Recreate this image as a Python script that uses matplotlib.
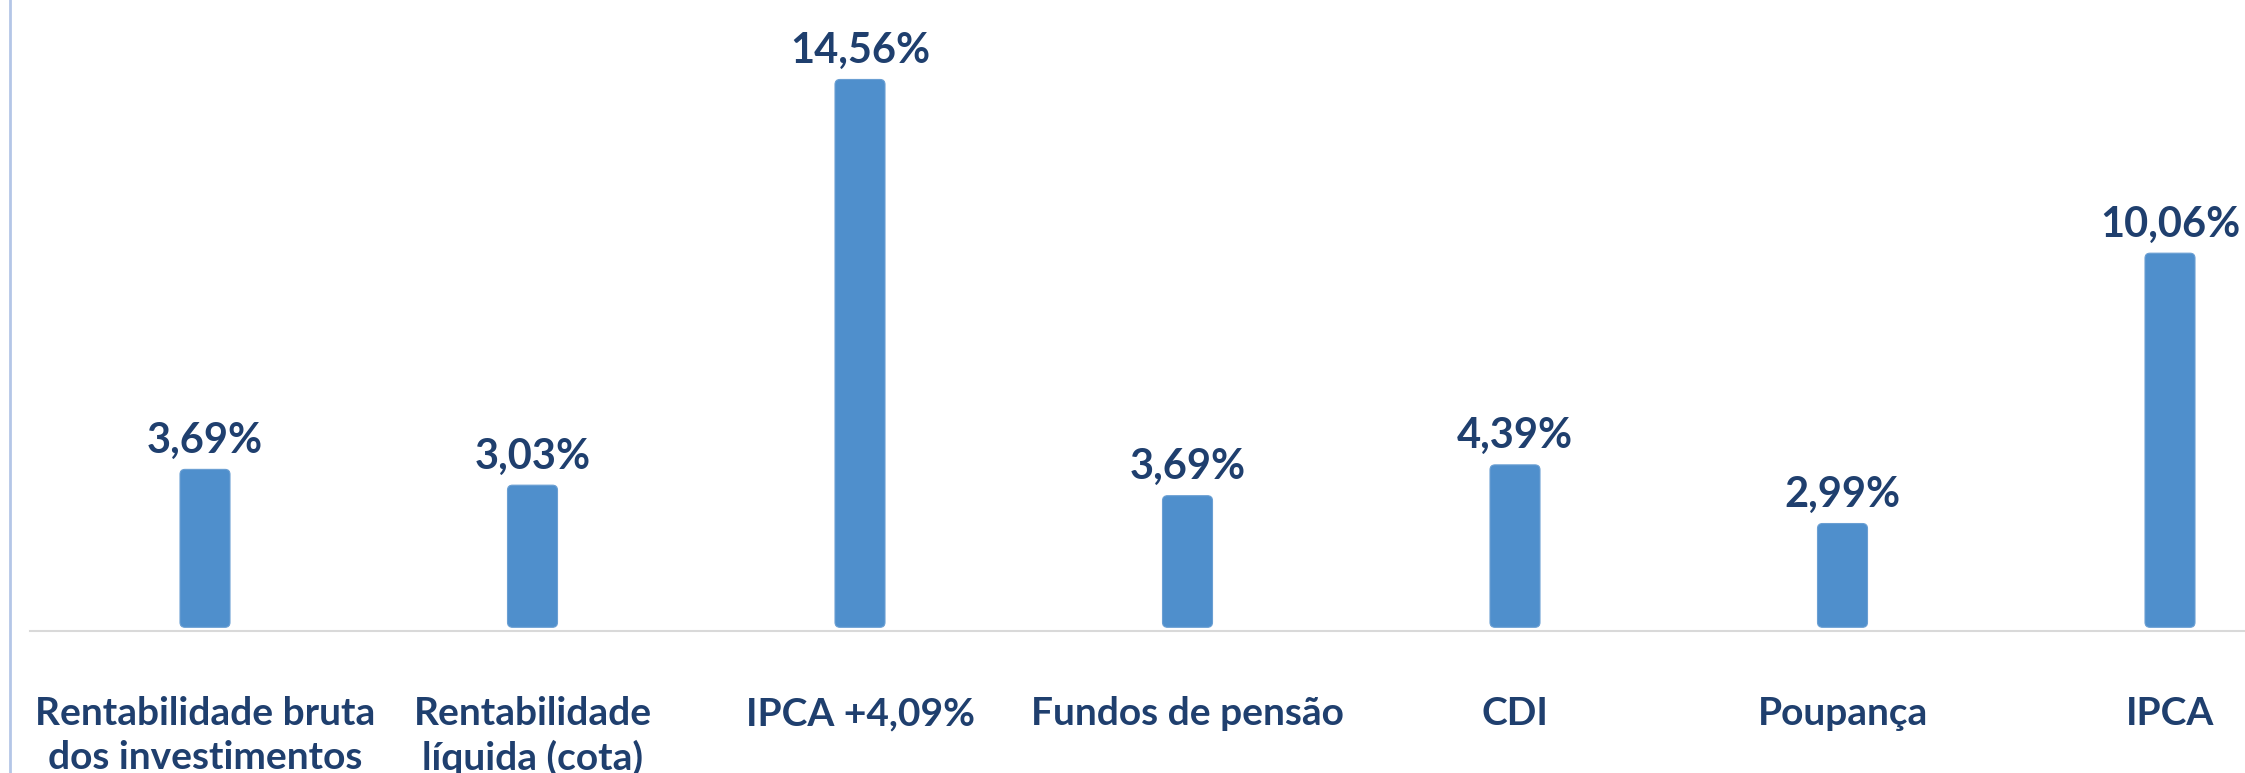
import matplotlib
matplotlib.use("Agg")
import matplotlib.pyplot as plt
from matplotlib.patches import FancyBboxPatch

# Data
categories = ["Rentabilidade bruta\ndos investimentos", "Rentabilidade\nlíquida (cota)",
              "IPCA +4,09%", "Fundos de pensão", "CDI", "Poupança", "IPCA"]
value_labels = ["3,69%", "3,03%", "14,56%", "3,69%", "4,39%", "2,99%", "10,06%"]
# bar heights as drawn in the picture (% units)
bar_heights = [4.20, 3.78, 14.57, 3.50, 4.32, 2.76, 9.95]

bar_color = "#4F8FCC"
text_color = "#1F3F6E"

W, H = 2245, 773
fig = plt.figure(figsize=(W / 100, H / 100), dpi=100)
ax = fig.add_axes([0, 0, 1, 1])

# pixel layout of the reference
x0_px, dx_px = 205, 327.5      # first bar centre, spacing
base_px, ppu = 627.3, 37.6     # bar bottom (from top), pixels per % unit

ax.set_xlim(-x0_px / dx_px, (W - x0_px) / dx_px)
ax.set_ylim(-(H - base_px) / ppu, base_px / ppu)
ax.axis("off")

width = 50 / dx_px
aspect = dx_px / ppu
xs = list(range(len(categories)))
bars = ax.bar(xs, bar_heights, width=width, color=bar_color)
for b in bars:
    b.set_visible(False)
    p = FancyBboxPatch((b.get_x(), 0), b.get_width(), b.get_height(),
                       boxstyle="round,pad=0,rounding_size=%f" % (5 / dx_px),
                       mutation_aspect=aspect, facecolor=bar_color,
                       edgecolor="#6a9fd3", linewidth=0.8)
    ax.add_patch(p)

for x, h, lab in zip(xs, bar_heights, value_labels):
    ax.annotate(lab, (x, h), xytext=(0, 12), textcoords="offset points",
                ha="center", va="baseline", fontsize=30, fontweight="bold",
                color=text_color, family="Lato")

for x, cat in zip(xs, categories):
    ax.text(x, (base_px - 696) / ppu, cat, ha="center", va="top",
            fontsize=28, fontweight="bold", color=text_color, family="Lato",
            linespacing=1.3)

# baseline and left border
ax.axhline(-3.4 / ppu, xmin=30 / W, xmax=1, color="#d9d9d9", linewidth=1.5)
ax.axvline((10 - x0_px) / dx_px, color="#b4c6e7", linewidth=2)

fig.savefig("out.png", dpi=100)
